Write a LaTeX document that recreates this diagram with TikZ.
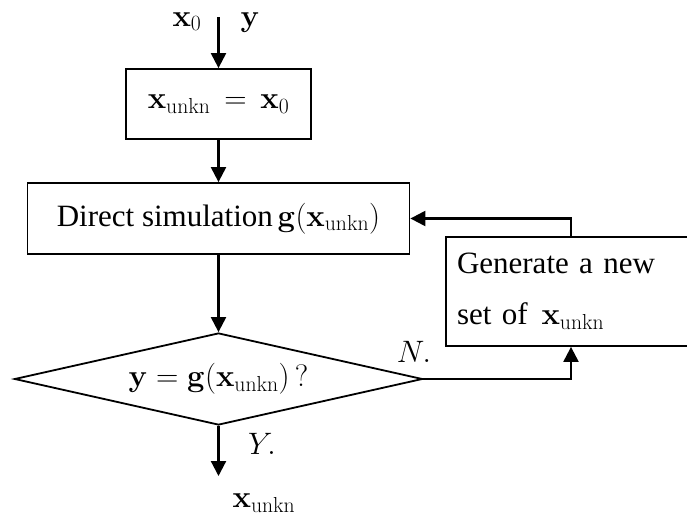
\RequirePackage{fix-cm}
\documentclass[tikz,border=0pt]{standalone}
\usepackage[no-math]{fontspec}
\setmainfont{Liberation Serif}
\usetikzlibrary{arrows.meta,shapes.geometric}
\begin{document}
\begin{tikzpicture}[x=1pt,y=-1pt,
  every node/.style={font=\fontsize{31}{37}\selectfont},
  boxnode/.style={draw,line width=1.8pt,rectangle,inner sep=0pt},
  flow/.style={line width=2.2pt,-{Triangle[length=15pt,width=15pt]}}]
\useasboundingbox (0,0) rectangle (687,522);
\node[boxnode,minimum width=185pt,minimum height=70pt] (init) at (218.5,104) {$\mathbf{x}_{\mathrm{unkn}}\,=\,\mathbf{x}_0$};
\node[boxnode,minimum width=382pt,minimum height=71pt] (sim) at (218.5,218.5) {Direct simulation\hspace{0.15em}$\mathbf{g}(\mathbf{x}_{\mathrm{unkn}})$};
\node[draw,diamond,aspect=4.43,line width=1.8pt,inner sep=0pt,minimum width=408pt,minimum height=92pt] (test) at (218.5,379) {$\mathbf{y}=\mathbf{g}(\mathbf{x}_{\mathrm{unkn}})\,?$};
\node[boxnode,minimum width=250pt,minimum height=109pt,text width=228pt,align=left,font=\fontsize{31}{51}\selectfont] (gen) at (571,291.5) {Generate a new\\set of\hspace{0.45em}$\mathbf{x}_{\mathrm{unkn}}$};
\coordinate (src) at (218.5,17);
\coordinate (dst) at (218.5,476);
\node[anchor=base] (lx0) at (187,26) {$\mathbf{x}_0$};
\node[anchor=base] (ly) at (250,26) {$\mathbf{y}$};
\node (lN) at (414,352) {$N.$};
\node (lY) at (262,444) {$Y.$};
\node (lout) at (264,503) {$\mathbf{x}_{\mathrm{unkn}}$};
\draw[flow] (src) -- (init);
\draw[flow] (init) -- (sim);
\draw[flow] (sim) -- (test);
\draw[flow] (test) -- (dst);
\draw[flow] (test.east) -| (gen.south);
\draw[flow] (gen.north) |- (sim.east);
\end{tikzpicture}
\end{document}
